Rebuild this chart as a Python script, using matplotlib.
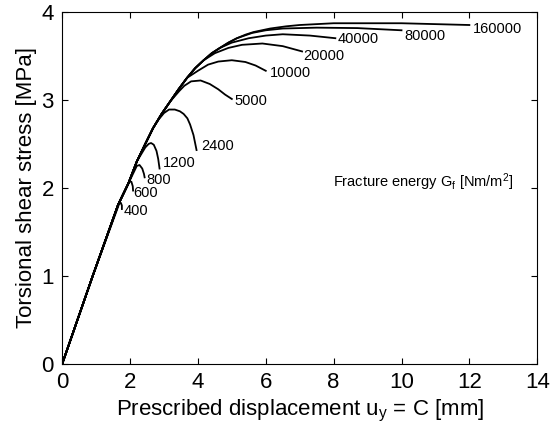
import matplotlib
matplotlib.use("Agg")
import matplotlib.pyplot as plt

plt.rcParams['font.family'] = ['Liberation Sans', 'DejaVu Sans']
plt.rcParams['mathtext.fontset'] = 'custom'
plt.rcParams['mathtext.rm'] = 'Liberation Sans'
plt.rcParams['mathtext.it'] = 'Liberation Sans'

# common loading branch
env_x = [0, 0.9, 1.65, 1.95, 2.2, 2.45, 2.68, 2.93, 3.18, 3.43, 3.68, 3.92, 4.17, 4.41, 4.65, 4.9,
         5.15, 5.4, 5.64, 6.13, 6.6, 7.0, 8.0, 9.0, 10.0, 11.0, 12.0]
env_y = [0, 1.0, 1.81, 2.05, 2.3, 2.5, 2.68, 2.84, 2.98, 3.12, 3.25, 3.36, 3.45, 3.53, 3.59, 3.65,
         3.70, 3.74, 3.77, 3.81, 3.835, 3.85, 3.87, 3.87, 3.87, 3.86, 3.85]

# softening branches per fracture energy
gf = ['400', '600', '800', '1200', '2400', '5000', '10000', '20000', '40000', '80000', '160000']
branch_at = [1.60, 1.90, 2.1, 2.3, 2.68, 3.18, 3.68, 4.17, 4.65, 5.15, 12.0]
br_x = [
    [1.68, 1.73, 1.76, 1.76],
    [1.98, 2.04, 2.08, 2.09],
    [2.2, 2.28, 2.36, 2.41, 2.43],
    [2.45, 2.55, 2.62, 2.70, 2.78, 2.83, 2.87],
    [2.85, 3.0, 3.15, 3.32, 3.47, 3.58, 3.69, 3.77, 3.87, 3.96],
    [3.45, 3.6, 3.8, 4.08, 4.35, 4.6, 4.8, 5.0],
    [4.0, 4.3, 4.6, 5.0, 5.4, 5.7, 6.0],
    [4.5, 4.9, 5.3, 5.9, 6.5, 7.07],
    [5.0, 5.5, 6.0, 6.5, 7.3, 8.05],
    [5.6, 6.0, 6.5, 7.5, 8.7, 10.0],
    [],
]
br_y = [
    [1.82, 1.83, 1.80, 1.76],
    [2.07, 2.07, 2.02, 1.97],
    [2.25, 2.26, 2.22, 2.16, 2.12],
    [2.46, 2.50, 2.51, 2.49, 2.42, 2.33, 2.22],
    [2.78, 2.85, 2.89, 2.89, 2.87, 2.84, 2.79, 2.72, 2.60, 2.43],
    [3.10, 3.16, 3.21, 3.22, 3.18, 3.12, 3.06, 3.01],
    [3.33, 3.40, 3.435, 3.45, 3.43, 3.39, 3.33],
    [3.53, 3.59, 3.625, 3.64, 3.61, 3.55],
    [3.65, 3.70, 3.73, 3.745, 3.73, 3.70],
    [3.76, 3.79, 3.81, 3.82, 3.815, 3.79],
    [],
]
lab_x = [1.82, 2.1, 2.47, 2.97, 4.11, 5.09, 6.12, 7.1, 8.12, 10.08, 12.11]
lab_y = [1.74, 1.94, 2.09, 2.28, 2.48, 2.99, 3.30, 3.50, 3.69, 3.73, 3.80]

fig = plt.figure(figsize=(5.55, 4.37), dpi=100)
ax = fig.add_axes([0.112, 0.167, 0.856, 0.806])

for i in range(len(gf)):
    xs = [x for x in env_x if x <= branch_at[i]]
    ys = env_y[:len(xs)]
    ax.plot(xs + br_x[i], ys + br_y[i], color='black', lw=1.3, solid_joinstyle='round')
    ax.text(lab_x[i], lab_y[i], gf[i], fontsize=10.5, va='center', ha='left')

ax.text(7.99, 2.07, r'Fracture energy G$_\mathregular{f}$ [Nm/m$^\mathregular{2}$]',
        fontsize=10.5, va='center', ha='left')

ax.set_xlim(0, 14)
ax.set_ylim(0, 4)
ax.set_xticks(range(0, 15, 2))
ax.set_yticks(range(0, 5))
ax.tick_params(direction='in', top=True, right=True, labelsize=16, length=4, width=0.8, pad=6)
for s in ax.spines.values():
    s.set_linewidth(0.8)
ax.set_xlabel(r'Prescribed displacement u$_\mathregular{y}$ = C [mm]', fontsize=16, labelpad=3)
ax.set_ylabel('Torsional shear stress [MPa]', fontsize=16, labelpad=3)

fig.savefig('out.png', dpi=100)
